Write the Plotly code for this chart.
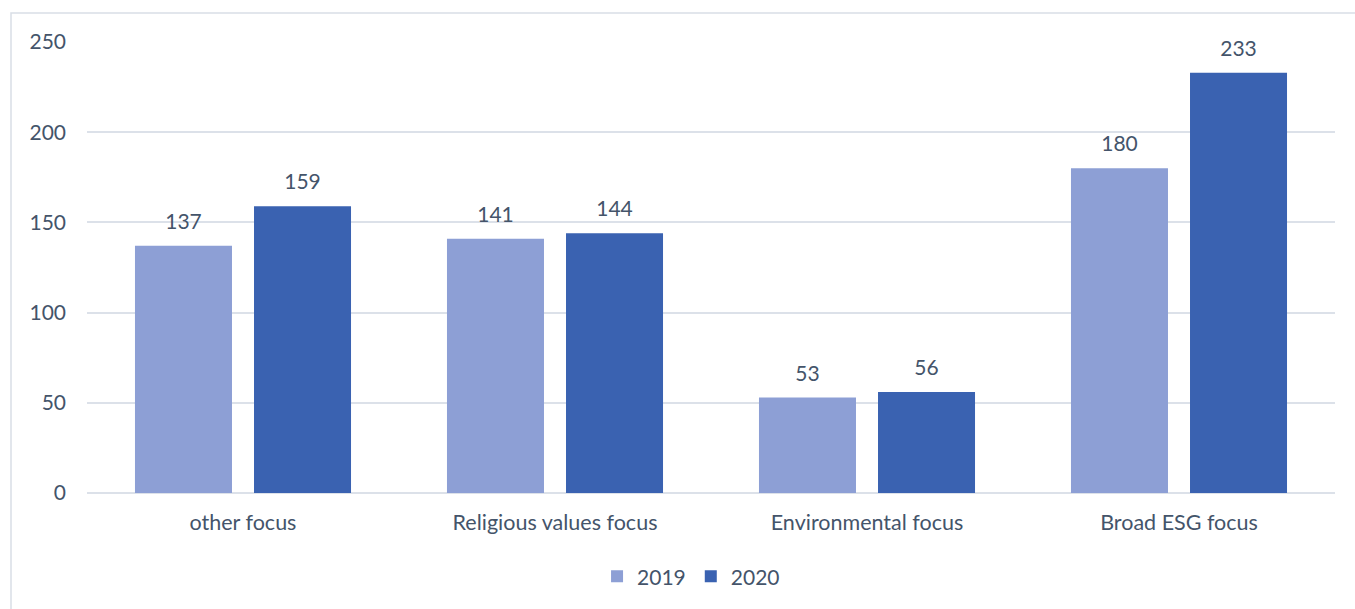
import plotly.graph_objects as go

categories = ["other focus", "Religious values focus", "Environmental focus", "Broad ESG focus"]
series_names = ["2019", "2020"]
values_2019 = [137, 141, 53, 180]
values_2020 = [159, 144, 56, 233]
y_ticks = [0, 50, 100, 150, 200, 250]

colors = {"2019": "#8D9FD5", "2020": "#3A62B1"}
text_color = "#44546A"
grid_color = "#DCE1E9"
font_family = "Lato, Carlito, Calibri, sans-serif"
font_size = 21

fig = go.Figure()
for name, vals in zip(series_names, [values_2019, values_2020]):
    fig.add_trace(go.Bar(
        x=categories, y=vals, name=name, offsetgroup=name,
        marker=dict(color=colors[name], line=dict(width=0)),
        hoverinfo="skip",
    ))
for name, vals in zip(series_names, [values_2019, values_2020]):
    fig.add_trace(go.Scatter(
        x=categories, y=vals, name=name, offsetgroup=name,
        mode="markers+text", text=[str(v) for v in vals],
        textposition="top center",
        textfont=dict(family=font_family, size=font_size, color=text_color),
        marker=dict(size=17, opacity=0),
        showlegend=False, hoverinfo="skip", cliponaxis=False,
    ))

fig.update_layout(
    width=1355, height=609,
    margin=dict(l=87, r=20, t=42, b=116),
    paper_bgcolor="white", plot_bgcolor="white",
    barmode="group", bargap=0.237, bargroupgap=0.185,
    scattermode="group", scattergap=0.237,
    font=dict(family=font_family, size=font_size, color=text_color),
    showlegend=True,
    legend=dict(orientation="h", xref="container", yref="container",
                x=0.51, y=0.053, xanchor="center", yanchor="middle",
                font=dict(family=font_family, size=font_size, color=text_color),
                itemwidth=30, traceorder="normal"),
    xaxis=dict(showgrid=False, showline=False, zeroline=False, ticks="",
               ticklabelstandoff=14,
               tickfont=dict(family=font_family, size=font_size + 0.5, color=text_color)),
    yaxis=dict(range=[0, 250], tickvals=y_ticks, showgrid=True, gridcolor=grid_color,
               gridwidth=1.5, zeroline=True, zerolinecolor=grid_color, zerolinewidth=1.5,
               showline=False, ticks="", ticklabelstandoff=20,
               tickfont=dict(family=font_family, size=font_size, color=text_color)),
    shapes=[dict(type="rect", xref="paper", yref="paper",
                 x0=-0.0609, y0=-0.4, x1=1.1, y1=1.0643,
                 line=dict(color="#D9DEE6", width=1.5), layer="below")],
)

fig.write_html("out.html")
